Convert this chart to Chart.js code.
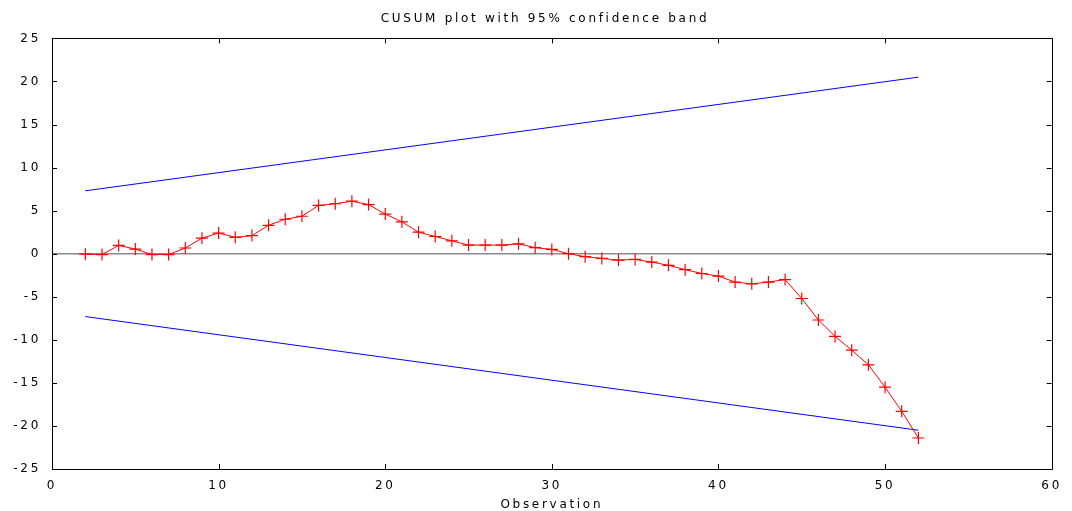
<!DOCTYPE html>
<html>
<head>
<meta charset="utf-8">
<script src="https://cdn.jsdelivr.net/npm/chart.js@4/dist/chart.umd.min.js"></script>
<style>
  html, body { margin: 0; padding: 0; background: #fff; }
  #wrap { width: 1072px; height: 511px; position: relative; }
</style>
</head>
<body>
<div id="wrap"><canvas id="c" width="1072" height="511"></canvas></div>
<script>
// ---- data ----
const chartTitle = 'CUSUM plot with 95% confidence band';
const xAxisTitle = 'Observation';
const observations = [2,3,4,5,6,7,8,9,10,11,12,13,14,15,16,17,18,19,20,21,22,23,24,25,26,27,28,29,30,31,32,33,34,35,36,37,38,39,40,41,42,43,44,45,46,47,48,49,50,51,52];
const cusum = [-0.05,-0.1,0.96,0.54,-0.1,-0.1,0.66,1.8,2.4,1.9,2.1,3.3,4.0,4.35,5.6,5.8,6.1,5.7,4.6,3.7,2.5,2.0,1.5,1.0,1.0,1.0,1.15,0.7,0.5,0.0,-0.35,-0.55,-0.75,-0.67,-0.97,-1.35,-1.85,-2.3,-2.6,-3.3,-3.5,-3.3,-3.0,-5.2,-7.7,-9.6,-11.2,-12.9,-15.5,-18.3,-21.4];
const bandObs = [2, 52];
const upperBand = [7.3, 20.5];
const lowerBand = [-7.3, -20.5];
const zeroLineX = [0, 60];
const zeroLineY = [0, 0];
const xTicks = [0,10,20,30,40,50,60];
const yTicks = [-25,-20,-15,-10,-5,0,5,10,15,20,25];

const pts = (xs, ys) => xs.map((x, i) => ({x: x, y: ys[i]}));

const FONT = "'DejaVu Sans', sans-serif";
const SPACING = '2.7px';

const framePlugin = {
  id: 'frame',
  beforeInit(chart) { chart.ctx.letterSpacing = SPACING; },
  beforeUpdate(chart) { chart.ctx.letterSpacing = SPACING; },
  afterLayout(chart) {
    const t = chart.titleBlock;
    if (t) { t.left += 17; t.right += 17; }
  },
  beforeDraw(chart) { chart.ctx.letterSpacing = SPACING; },
  afterDatasetsDraw(chart) {
    const ctx = chart.ctx, a = chart.chartArea;
    const xs = chart.scales.x, ys = chart.scales.y;
    ctx.save();
    ctx.strokeStyle = '#000';
    ctx.lineWidth = 1;
    ctx.beginPath();
    ctx.rect(Math.round(a.left) + 0.5, Math.round(a.top) + 0.5, Math.round(a.right - a.left), Math.round(a.bottom - a.top));
    ctx.stroke();
    const tl = 5;
    ctx.beginPath();
    xTicks.forEach(v => {
      const px = Math.round(xs.getPixelForValue(v)) + 0.5;
      ctx.moveTo(px, a.bottom); ctx.lineTo(px, a.bottom - tl);
      ctx.moveTo(px, a.top); ctx.lineTo(px, a.top + tl);
    });
    yTicks.forEach(v => {
      const py = Math.round(ys.getPixelForValue(v)) + 0.5;
      ctx.moveTo(a.left, py); ctx.lineTo(a.left + tl, py);
      ctx.moveTo(a.right, py); ctx.lineTo(a.right - tl, py);
    });
    ctx.stroke();
    ctx.restore();
  }
};

new Chart(document.getElementById('c'), {
  type: 'line',
  data: {
    datasets: [
      { data: pts(zeroLineX, zeroLineY), borderColor: '#8a8a8a', borderWidth: 1.6, pointRadius: 0, order: 4 },
      { data: pts(bandObs, upperBand), borderColor: '#0000ff', borderWidth: 1, pointRadius: 0, order: 3 },
      { data: pts(bandObs, lowerBand), borderColor: '#0000ff', borderWidth: 1, pointRadius: 0, order: 2 },
      { data: pts(observations, cusum), borderColor: '#ff0000', borderWidth: 1, pointStyle: 'cross',
        pointRadius: 6, pointBorderWidth: 1.2, pointBorderColor: '#ff0000', pointBackgroundColor: '#ff0000', order: 1 }
    ]
  },
  options: {
    responsive: false,
    animation: false,
    devicePixelRatio: 1,
    layout: { padding: { top: 0, right: 16, left: 0, bottom: 0 } },
    plugins: {
      legend: { display: false },
      tooltip: { enabled: false },
      title: {
        display: true, text: chartTitle, color: '#000',
        font: { family: FONT, size: 12, weight: 'normal', lineHeight: 1.2 },
        padding: { top: 12, bottom: 12 }
      }
    },
    scales: {
      x: {
        type: 'linear', min: 0, max: 60,
        afterBuildTicks: s => { s.ticks = xTicks.map(v => ({value: v})); },
        afterFit: s => { s.height = 42; },
        grid: { display: false, drawTicks: false },
        border: { display: false },
        ticks: { color: '#000', padding: 10, maxRotation: 0, font: { family: FONT, size: 12 } },
        title: { display: true, text: xAxisTitle, color: '#000', padding: { top: 0, bottom: 0 },
                 font: { family: FONT, size: 12, lineHeight: 1.0 } }
      },
      y: {
        type: 'linear', min: -25, max: 25,
        afterBuildTicks: s => { s.ticks = yTicks.map(v => ({value: v})); },
        afterFit: s => { s.width = 52; },
        grid: { display: false, drawTicks: false },
        border: { display: false },
        ticks: { color: '#000', padding: 11, font: { family: FONT, size: 12 } }
      }
    }
  },
  plugins: [framePlugin]
});
</script>
</body>
</html>
